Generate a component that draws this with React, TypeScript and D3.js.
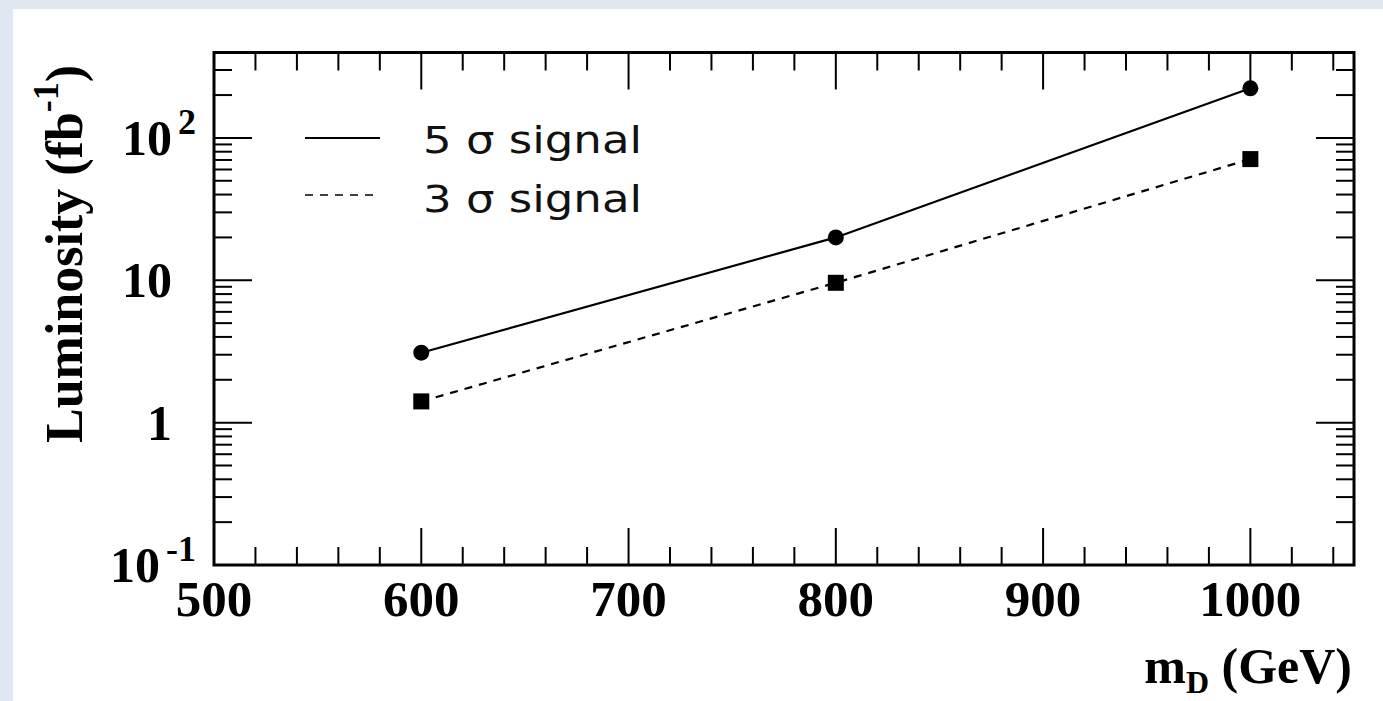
import React from "react";
import * as d3 from "d3";

const massesGeV = [600, 800, 1000];
const lumi5Sigma = [3.1, 20, 223];
const lumi3Sigma = [1.41, 9.6, 71];
const xTickLabels = [500, 600, 700, 800, 900, 1000];
const legendLabels = ["5 σ signal", "3 σ signal"];

const W = 1383;
const H = 701;
const SERIF = "'Liberation Serif', 'Times New Roman', serif";
const SANS = "'DejaVu Sans', 'Noto Sans', sans-serif";

export default function App() {
  const x = d3.scaleLinear().domain([500, 1050]).range([214, 1354]);
  const y = d3.scaleLog().domain([0.1, Math.pow(10, 2.6)]).range([565, 52.5]);
  const [x0, x1] = x.range();
  const [y0, y1] = y.range();

  const xMinor = d3.range(500, 1051, 20);
  const yTicks: { v: number; major: boolean }[] = [];
  for (let e = -1; e <= 2; e++) {
    for (let k = 1; k <= 9; k++) {
      const v = k * Math.pow(10, e);
      if (v >= 0.1 && v <= y.domain()[1]) yTicks.push({ v, major: k === 1 });
    }
  }

  const line = d3
    .line<number>()
    .x((_, i) => x(massesGeV[i]))
    .y((d) => y(d));

  const yLabels: { v: number; base: string; exp?: string }[] = [
    { v: 0.1, base: "10", exp: "-1" },
    { v: 1, base: "1" },
    { v: 10, base: "10" },
    { v: 100, base: "10", exp: "2" },
  ];

  return (
    <svg
      width={W}
      height={H}
      style={{ position: "absolute", left: 0, top: 0 }}
    >
      <rect x={0} y={0} width={W} height={H} fill="#dfe7f1" />
      <rect x={13} y={9} width={W - 13} height={H - 9} fill="#ffffff" />

      {/* x ticks bottom and top */}
      {xMinor.map((v) => {
        const major = v % 100 === 0;
        const len = major ? 37 : 18;
        return (
          <g key={"xt" + v} stroke="#000" strokeWidth={2}>
            <line x1={x(v)} x2={x(v)} y1={y0} y2={y0 - len} />
            <line x1={x(v)} x2={x(v)} y1={y1} y2={y1 + len} />
          </g>
        );
      })}

      {/* y ticks left and right */}
      {yTicks.map((t) => {
        const len = t.major ? 38 : 18;
        const yy = y(t.v);
        return (
          <g key={"yt" + t.v} stroke="#000" strokeWidth={2}>
            <line x1={x0} x2={x0 + len} y1={yy} y2={yy} />
            <line x1={x1} x2={x1 - len} y1={yy} y2={yy} />
          </g>
        );
      })}

      {/* frame */}
      <rect
        x={x0}
        y={y1}
        width={x1 - x0}
        height={y0 - y1}
        fill="none"
        stroke="#000"
        strokeWidth={3}
      />

      {/* x tick labels */}
      {xTickLabels.map((v) => (
        <text
          key={"xl" + v}
          x={x(v)}
          y={616}
          textAnchor="middle"
          fontFamily={SERIF}
          fontWeight="bold"
          fontSize={51}
        >
          {v}
        </text>
      ))}

      {/* y tick labels */}
      {yLabels.map((l) => (
        <text
          key={"yl" + l.v}
          x={l.exp ? 196 : 172}
          y={y(l.v) + 17}
          textAnchor="end"
          fontFamily={SERIF}
          fontWeight="bold"
          fontSize={50}
        >
          {l.base}
          {l.exp ? (
            <tspan dx={6} dy={-21} fontSize={36}>
              {l.exp}
            </tspan>
          ) : null}
        </text>
      ))}

      {/* axis titles */}
      <text
        transform="translate(82,443) rotate(-90)"
        fontFamily={SERIF}
        fontWeight="bold"
        fontSize={52}
      >
        Luminosity (fb
        <tspan dy={-24} fontSize={36}>
          -1
        </tspan>
        <tspan dy={24}>)</tspan>
      </text>
      <text
        x={1352}
        y={683}
        textAnchor="end"
        fontFamily={SERIF}
        fontWeight="bold"
        fontSize={50}
      >
        m
        <tspan dy={10} fontSize={32}>
          D
        </tspan>
        <tspan dy={-10}> (GeV)</tspan>
      </text>

      {/* data lines */}
      <path
        d={line(lumi5Sigma) || ""}
        fill="none"
        stroke="#000"
        strokeWidth={2.2}
      />
      <path
        d={line(lumi3Sigma) || ""}
        fill="none"
        stroke="#000"
        strokeWidth={2.2}
        strokeDasharray="8,7"
      />

      {/* markers */}
      {lumi5Sigma.map((v, i) => (
        <circle
          key={"c" + i}
          cx={x(massesGeV[i])}
          cy={y(v)}
          r={8}
          fill="#000"
        />
      ))}
      {lumi3Sigma.map((v, i) => (
        <rect
          key={"s" + i}
          x={x(massesGeV[i]) - 8}
          y={y(v) - 8}
          width={16}
          height={16}
          fill="#000"
        />
      ))}

      {/* legend */}
      <line x1={305} x2={380} y1={138} y2={138} stroke="#000" strokeWidth={2} />
      <line
        x1={305}
        x2={380}
        y1={195}
        y2={195}
        stroke="#000"
        strokeWidth={1.5}
        strokeDasharray="8,7"
      />
      {legendLabels.map((l, i) => (
        <text
          key={"lg" + i}
          x={423}
          y={153 + i * 59}
          fontFamily={SANS}
          fontSize={38}
          textLength={219}
          lengthAdjust="spacingAndGlyphs"
          fill="#111"
        >
          {l}
        </text>
      ))}
    </svg>
  );
}
